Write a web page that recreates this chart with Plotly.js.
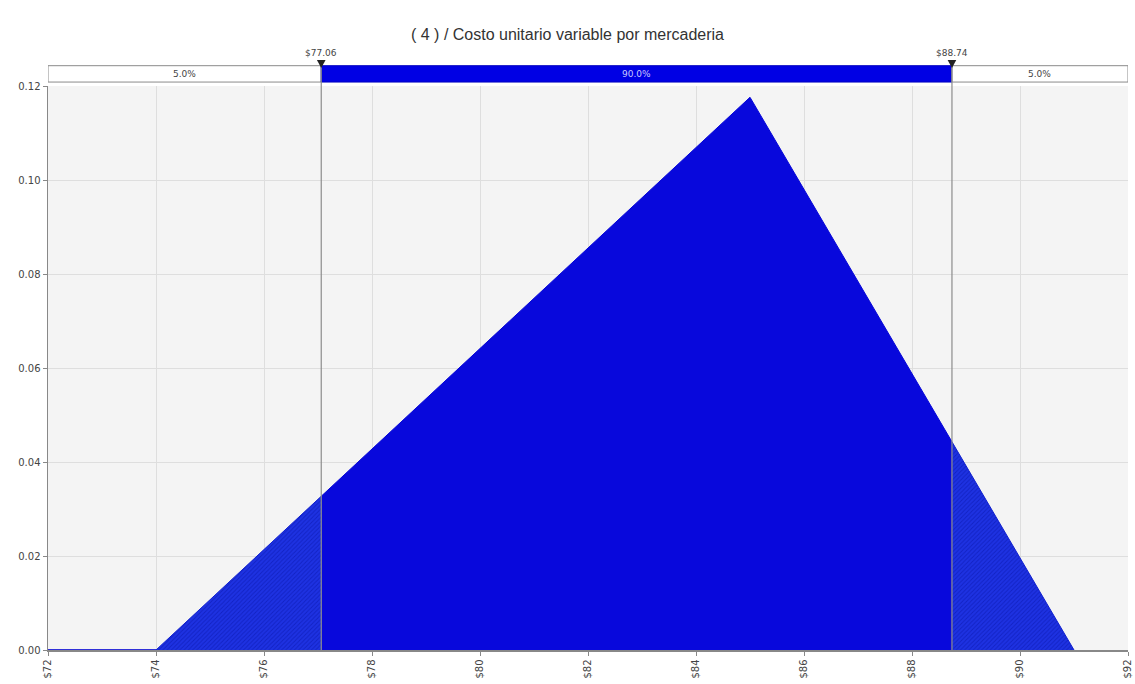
<!DOCTYPE html>
<html><head><meta charset="utf-8">
<script src="https://cdn.plot.ly/plotly-3.0.1.min.js"></script>
<style>html,body{margin:0;padding:0;background:#fff}#c{width:1135px;height:684px}</style>
</head><body><div id="c"></div>
<script>
// Triangular density (min, mode, max)
const densX = [74, 85, 91];
const densY = [0, 0.1176, 0];
const lowCut = 77.06, highCut = 88.74;
const bandLabels = ["5.0%", "90.0%", "5.0%"];
const cutLabels = ["$77.06", "$88.74"];
const xTicks = [72, 74, 76, 78, 80, 82, 84, 86, 88, 90, 92];
const yTicks = [0, 0.02, 0.04, 0.06, 0.08, 0.10, 0.12];

function interp(x){
  if (x <= densX[0] || x >= densX[densX.length-1]) return 0;
  for (let i=0;i<densX.length-1;i++){
    if (x>=densX[i] && x<=densX[i+1]){
      const t=(x-densX[i])/(densX[i+1]-densX[i]);
      return densY[i]+t*(densY[i+1]-densY[i]);
    }
  }
  return 0;
}
function segment(a,b){
  const xs=[a], ys=[interp(a)];
  densX.forEach((x,i)=>{ if(x>a && x<b){xs.push(x); ys.push(densY[i]);} });
  xs.push(b); ys.push(interp(b));
  return {xs, ys};
}
const left = segment(densX[0], lowCut);
const mid = segment(lowCut, highCut);
const right = segment(highCut, densX[densX.length-1]);

const tailStyle = {shape:'/', bgcolor:'#1e32e2', fgcolor:'#1222c4', size:3, solidity:0.3};
const traces = [
  {x:[xTicks[0], densX[0]], y:[0,0], mode:'lines', line:{color:'#3030d8', width:2}, hoverinfo:'skip'},
  {x:left.xs, y:left.ys, mode:'lines', fill:'tozeroy', line:{color:'#1020d0', width:1}, fillcolor:'#1e32e2', fillpattern:tailStyle, hoverinfo:'skip'},
  {x:mid.xs, y:mid.ys, mode:'lines', fill:'tozeroy', line:{color:'#0606d8', width:1}, fillcolor:'#0808dc', hoverinfo:'skip'},
  {x:right.xs, y:right.ys, mode:'lines', fill:'tozeroy', line:{color:'#1020d0', width:1}, fillcolor:'#1e32e2', fillpattern:tailStyle, hoverinfo:'skip'}
];

const barY0 = 1.007, barY1 = 1.036;
const shapes = [
  {type:'rect', xref:'x', yref:'paper', x0:xTicks[0], x1:lowCut, y0:barY0, y1:barY1, fillcolor:'#ffffff', line:{color:'#8a8a8a', width:1}},
  {type:'rect', xref:'x', yref:'paper', x0:lowCut, x1:highCut, y0:barY0, y1:barY1, fillcolor:'#0000e4', line:{color:'#0000c0', width:1}},
  {type:'rect', xref:'x', yref:'paper', x0:highCut, x1:xTicks[xTicks.length-1], y0:barY0, y1:barY1, fillcolor:'#ffffff', line:{color:'#8a8a8a', width:1}},
  {type:'line', xref:'x', yref:'paper', x0:lowCut, x1:lowCut, y0:0, y1:barY1, line:{color:'#8c8c8c', width:1.2}},
  {type:'line', xref:'x', yref:'paper', x0:highCut, x1:highCut, y0:0, y1:barY1, line:{color:'#8c8c8c', width:1.2}},
  {type:'path', xref:'x', yref:'paper', path:`M ${lowCut-0.08} 1.046 L ${lowCut+0.08} 1.046 L ${lowCut} 1.032 Z`, fillcolor:'#222', line:{width:0}},
  {type:'path', xref:'x', yref:'paper', path:`M ${highCut-0.08} 1.046 L ${highCut+0.08} 1.046 L ${highCut} 1.032 Z`, fillcolor:'#222', line:{width:0}}
];

const af = {family:'DejaVu Sans, Verdana, sans-serif', size:9, color:'#444'};
const annotations = [
  {xref:'x', yref:'paper', x:(xTicks[0]+lowCut)/2, y:(barY0+barY1)/2, yanchor:'middle', text:bandLabels[0], showarrow:false, font:af},
  {xref:'x', yref:'paper', x:(lowCut+highCut)/2, y:(barY0+barY1)/2, yanchor:'middle', text:bandLabels[1], showarrow:false, font:{...af, color:'#c8c8ff'}},
  {xref:'x', yref:'paper', x:(highCut+xTicks[xTicks.length-1])/2, y:(barY0+barY1)/2, yanchor:'middle', text:bandLabels[2], showarrow:false, font:af},
  {xref:'x', yref:'paper', x:lowCut, y:1.046, yanchor:'bottom', text:cutLabels[0], showarrow:false, font:af},
  {xref:'x', yref:'paper', x:highCut, y:1.046, yanchor:'bottom', text:cutLabels[1], showarrow:false, font:af}
];

const tf = {family:'DejaVu Sans, Verdana, sans-serif', size:10, color:'#444'};
const layout = {
  width:1135, height:684,
  margin:{l:48, r:7, t:86, b:34},
  paper_bgcolor:'#ffffff', plot_bgcolor:'#f4f4f4',
  showlegend:false,
  title:{text:'( 4 ) / Costo unitario variable por mercaderia', x:0.5, xanchor:'center', y:0.95, yanchor:'middle',
         font:{family:'Liberation Sans, Arial, sans-serif', size:16, color:'#333'}},
  xaxis:{range:[xTicks[0], xTicks[xTicks.length-1]], tickvals:xTicks, ticktext:xTicks.map(v=>'$'+v),
         tickangle:-90, showgrid:true, gridcolor:'#dedede', zeroline:false, showline:true, linecolor:'#888', linewidth:1.5,
         ticks:'outside', ticklen:4, tickcolor:'#888', tickfont:tf},
  yaxis:{range:[0, 0.12], tickvals:yTicks, ticktext:yTicks.map(v=>v.toFixed(2)),
         showgrid:true, gridcolor:'#dedede', zeroline:false, showline:true, linecolor:'#888', linewidth:1.5,
         ticks:'outside', ticklen:4, tickcolor:'#888', tickfont:tf},
  shapes, annotations
};
Plotly.newPlot('c', traces, layout, {displayModeBar:false, staticPlot:true});
</script></body></html>
